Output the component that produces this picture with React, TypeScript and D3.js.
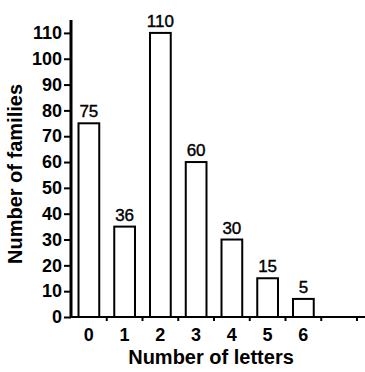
import { useEffect, useRef } from "react";
import * as d3 from "d3";

const letters = ["0", "1", "2", "3", "4", "5", "6", "7"];
const barHeights = [75, 35, 110, 60, 30, 15, 7];
const barLabels = ["75", "36", "110", "60", "30", "15", "5"];
const yTicks = [0, 10, 20, 30, 40, 50, 60, 70, 80, 90, 100, 110];

const W = 365;
const H = 372;

export default function App() {
  const ref = useRef<SVGSVGElement | null>(null);

  useEffect(() => {
    const svg = d3.select(ref.current);
    svg.selectAll("*").remove();

    const x = d3.scaleBand<string>().domain(letters).range([71, 357]).padding(0);
    const y = d3.scaleLinear().domain([0, 115]).range([317, 20]);
    const font = "'Liberation Sans', Arial, sans-serif";

    // bars
    const barW = x.bandwidth() * 0.58;
    const bars = barHeights.map((v, i) => ({ key: letters[i], v, label: barLabels[i] }));

    svg
      .append("g")
      .selectAll("rect")
      .data(bars)
      .enter()
      .append("rect")
      .attr("x", (d) => x(d.key)! + (x.bandwidth() - barW) / 2)
      .attr("y", (d) => y(d.v))
      .attr("width", barW)
      .attr("height", (d) => y(0) - y(d.v))
      .attr("fill", "#fff")
      .attr("stroke", "#000")
      .attr("stroke-width", 2);

    svg
      .append("g")
      .selectAll("text")
      .data(bars)
      .enter()
      .append("text")
      .attr("x", (d) => x(d.key)! + x.bandwidth() / 2)
      .attr("y", (d) => y(d.v) - 6)
      .attr("text-anchor", "middle")
      .attr("font-family", font)
      .attr("font-size", 17)
      .attr("stroke", "#000")
      .attr("stroke-width", 0.4)
      .text((d) => d.label);

    // y axis
    const yAxis = svg
      .append("g")
      .attr("transform", "translate(71,0)")
      .call(d3.axisLeft(y).tickValues(yTicks).tickSize(7).tickPadding(2).tickSizeOuter(0));
    yAxis.select(".domain").remove();
    yAxis.selectAll(".tick line").attr("stroke-width", 2);
    yAxis
      .selectAll(".tick text")
      .attr("font-family", font)
      .attr("font-size", 18)
      .attr("font-weight", "bold")
      .attr("fill", "#000");
    yAxis
      .append("line")
      .attr("x1", 0)
      .attr("x2", 0)
      .attr("y1", y(115))
      .attr("y2", y(0) + 1)
      .attr("stroke", "#000")
      .attr("stroke-width", 3);

    // x axis
    const xAxisG = svg.append("g").attr("transform", `translate(0,${y(0)})`);
    xAxisG
      .append("line")
      .attr("x1", 70)
      .attr("x2", W)
      .attr("stroke", "#000")
      .attr("stroke-width", 2);
    xAxisG
      .selectAll(".xt")
      .data(letters)
      .enter()
      .append("line")
      .attr("x1", (d) => x(d)! + x.bandwidth())
      .attr("x2", (d) => x(d)! + x.bandwidth())
      .attr("y1", 0)
      .attr("y2", 4)
      .attr("stroke", "#000")
      .attr("stroke-width", 2);
    xAxisG
      .selectAll(".xl")
      .data(letters.slice(0, barHeights.length))
      .enter()
      .append("text")
      .attr("x", (d) => x(d)! + x.bandwidth() / 2)
      .attr("y", 24)
      .attr("text-anchor", "middle")
      .attr("font-family", font)
      .attr("font-size", 18)
      .attr("font-weight", "bold")
      .text((d) => d);

    // titles
    svg
      .append("text")
      .attr("x", 211)
      .attr("y", 364)
      .attr("text-anchor", "middle")
      .attr("font-family", font)
      .attr("font-size", 20)
      .attr("font-weight", "bold")
      .text("Number of letters");

    svg
      .append("text")
      .attr("transform", "translate(22,174) rotate(-90)")
      .attr("text-anchor", "middle")
      .attr("font-family", font)
      .attr("font-size", 20)
      .attr("font-weight", "bold")
      .text("Number of families");
  }, []);

  return (
    <div style={{ position: "absolute", left: 0, top: 0 }}>
      <svg ref={ref} width={W} height={H} style={{ display: "block", background: "#fff" }} />
    </div>
  );
}
